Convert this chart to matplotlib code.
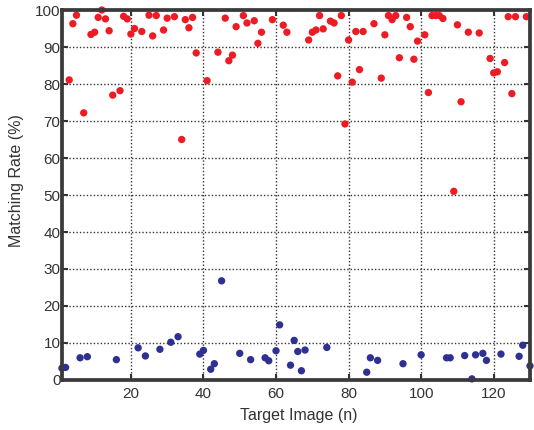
import matplotlib
matplotlib.use("Agg")
import matplotlib.pyplot as plt

# matching rate per target image, split into the two groups
red_n = [3, 4, 5, 7, 9, 10, 11, 12, 13, 14, 15, 17, 18, 19, 20, 21, 23, 25, 26, 27,
         29, 30, 32, 34, 35, 36, 37, 38, 41, 44, 46, 47, 48, 49, 51, 52, 54, 55, 56, 59,
         62, 63, 69, 70, 71, 72, 73, 75, 76, 77, 78, 79, 80, 81, 82, 83, 84, 87, 89, 90,
         91, 92, 93, 94, 96, 97, 98, 99, 101, 102, 103, 104, 105, 106, 109, 110, 111, 113,
         116, 119, 120, 121, 123, 124, 125, 126, 129]
red_rate = [81.1, 96.3, 98.6, 72.2, 93.4, 94.0, 98.0, 100.0, 97.6, 94.4, 77.0, 78.2, 98.3,
            97.6, 93.5, 95.0, 94.2, 98.6, 93.0, 98.5, 94.6, 97.8, 98.2, 65.0, 97.4, 95.2,
            98.0, 88.4, 80.9, 88.6, 97.8, 86.3, 87.8, 95.5, 98.5, 96.5, 97.1, 91.0, 94.0,
            97.4, 95.9, 94.0, 91.9, 94.0, 94.6, 98.5, 94.9, 97.0, 96.5, 82.2, 98.5, 69.2,
            91.9, 80.5, 94.2, 83.9, 94.2, 96.3, 81.6, 93.3, 98.5, 97.4, 98.5, 87.1, 98.0,
            95.5, 86.7, 91.6, 93.3, 77.7, 98.5, 98.5, 98.5, 97.7, 51.0, 96.0, 75.2, 94.0,
            93.8, 86.9, 83.0, 83.3, 85.8, 98.2, 77.4, 98.2, 98.2]

blue_n = [1, 2, 6, 8, 16, 22, 24, 28, 31, 33, 39, 40, 42, 43, 45, 50, 53, 57, 58, 60, 61,
          64, 65, 66, 67, 68, 74, 85, 86, 88, 95, 100, 107, 108, 112, 114, 115, 117, 118,
          122, 127, 128, 130]
blue_rate = [3.2, 3.4, 6.0, 6.3, 5.5, 8.7, 6.5, 8.3, 10.2, 11.7, 7.0, 8.0, 2.9, 4.4, 26.8,
             7.2, 5.5, 6.0, 5.2, 7.9, 14.9, 4.0, 10.7, 7.7, 2.5, 8.1, 8.8, 2.1, 6.0, 5.3,
             4.4, 6.8, 6.0, 6.0, 6.6, 0.3, 6.8, 7.2, 5.3, 7.0, 6.4, 9.4, 3.8]

plt.rcParams["font.family"] = ["Liberation Sans", "DejaVu Sans"]
fig = plt.figure(figsize=(5.34, 4.30), dpi=100)
ax = fig.add_axes([0.116, 0.1163, 0.8765, 0.8604])

ax.scatter(red_n, red_rate, s=28, color="#ed1c24", edgecolors="none", zorder=3, clip_on=False)
ax.scatter(blue_n, blue_rate, s=28, color="#2e3192", edgecolors="none", zorder=3, clip_on=False)

ax.set_xlim(1, 130)
ax.set_ylim(0, 100)
ax.set_xticks([20, 40, 60, 80, 100, 120])
ax.set_yticks(range(0, 101, 10))
ax.grid(True, ls=(0, (1, 1.5)), color="#333333", lw=1.0)
ax.set_axisbelow(True)
ax.tick_params(direction="in", top=True, right=True, length=4, width=1.5,
               color="#333333", labelsize=11, labelcolor="#333333")
ax.tick_params(axis="x", pad=5)
ax.tick_params(axis="y", pad=1)
for sp in ax.spines.values():
    sp.set_linewidth(2.7)
    sp.set_color("#3a3a3a")
    sp.set_zorder(4)

ax.set_xlabel("Target Image (n)", fontsize=11.5, color="#333333")
ax.set_ylabel("Matching Rate (%)", fontsize=11.5, color="#333333")
ax.xaxis.set_label_coords(0.506, -0.076)
ax.yaxis.set_label_coords(-0.08, 0.54)

fig.savefig("out.png", dpi=100)
